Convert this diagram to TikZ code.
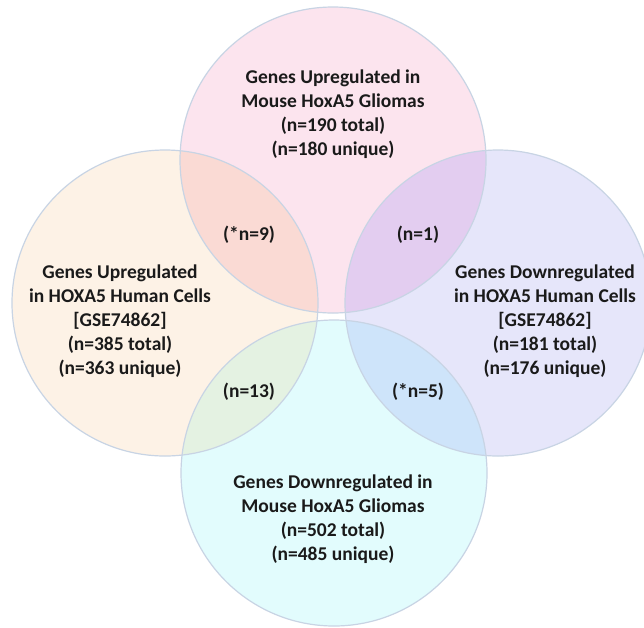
\documentclass[tikz,border=0pt]{standalone}
\usepackage{fontspec}
\setmainfont{Carlito}
\definecolor{pinkC}{RGB}{252,228,238}
\definecolor{peachC}{RGB}{253,242,230}
\definecolor{lavC}{RGB}{230,230,250}
\definecolor{cyanC}{RGB}{226,252,253}
\definecolor{tlC}{RGB}{250,218,212}
\definecolor{trC}{RGB}{227,205,240}
\definecolor{blC}{RGB}{228,242,226}
\definecolor{brC}{RGB}{206,228,250}
\definecolor{edgeC}{RGB}{200,212,228}
\definecolor{txtC}{RGB}{26,26,26}
\begin{document}
\begin{tikzpicture}[x=1pt,y=-1pt,
  rim/.style={draw=edgeC, line width=1.2pt},
  lbl/.style={align=center, text=txtC, inner sep=0pt,
    font=\fontsize{19.5}{24}\selectfont\bfseries}]
\useasboundingbox (0,0) rectangle (644,627);
\clip (0,0) rectangle (644,627);
\coordinate (cT) at (333,160);
\coordinate (cB) at (334,473);
\coordinate (cL) at (165,303);
\coordinate (cR) at (498,303);
\fill[white] (0,0) rectangle (644,627);
\fill[pinkC] (cT) circle (153pt);
\fill[peachC] (cL) circle (153pt);
\fill[lavC] (cR) circle (153pt);
\fill[cyanC] (cB) circle (153pt);
\begin{scope}
  \clip (cT) circle (153pt);
  \fill[tlC] (cL) circle (153pt);
  \fill[trC] (cR) circle (153pt);
\end{scope}
\begin{scope}
  \clip (cB) circle (153pt);
  \fill[blC] (cL) circle (153pt);
  \fill[brC] (cR) circle (153pt);
\end{scope}
\draw[rim] (cT) circle (153pt);
\draw[rim] (cL) circle (153pt);
\draw[rim] (cR) circle (153pt);
\draw[rim] (cB) circle (153pt);
\node[lbl] (tTop) at (333,114) {Genes Upregulated in\\Mouse HoxA5 Gliomas\\(n=190 total)\\(n=180 unique)};
\node[lbl] (tLeft) at (120,321) {Genes Upregulated\\in HOXA5 Human Cells\\{[GSE74862]}\\(n=385 total)\\(n=363 unique)};
\node[lbl] (tRight) at (545,321) {Genes Downregulated\\in HOXA5 Human Cells\\{[GSE74862]}\\(n=181 total)\\(n=176 unique)};
\node[lbl] (tBottom) at (333,519) {Genes Downregulated in\\Mouse HoxA5 Gliomas\\(n=502 total)\\(n=485 unique)};
\node[lbl] (iTL) at (249,235) {(*n=9)};
\node[lbl] (iTR) at (418,235) {(n=1)};
\node[lbl] (iBL) at (249,392) {(n=13)};
\node[lbl] (iBR) at (418,392) {(*n=5)};
\end{tikzpicture}
\end{document}
